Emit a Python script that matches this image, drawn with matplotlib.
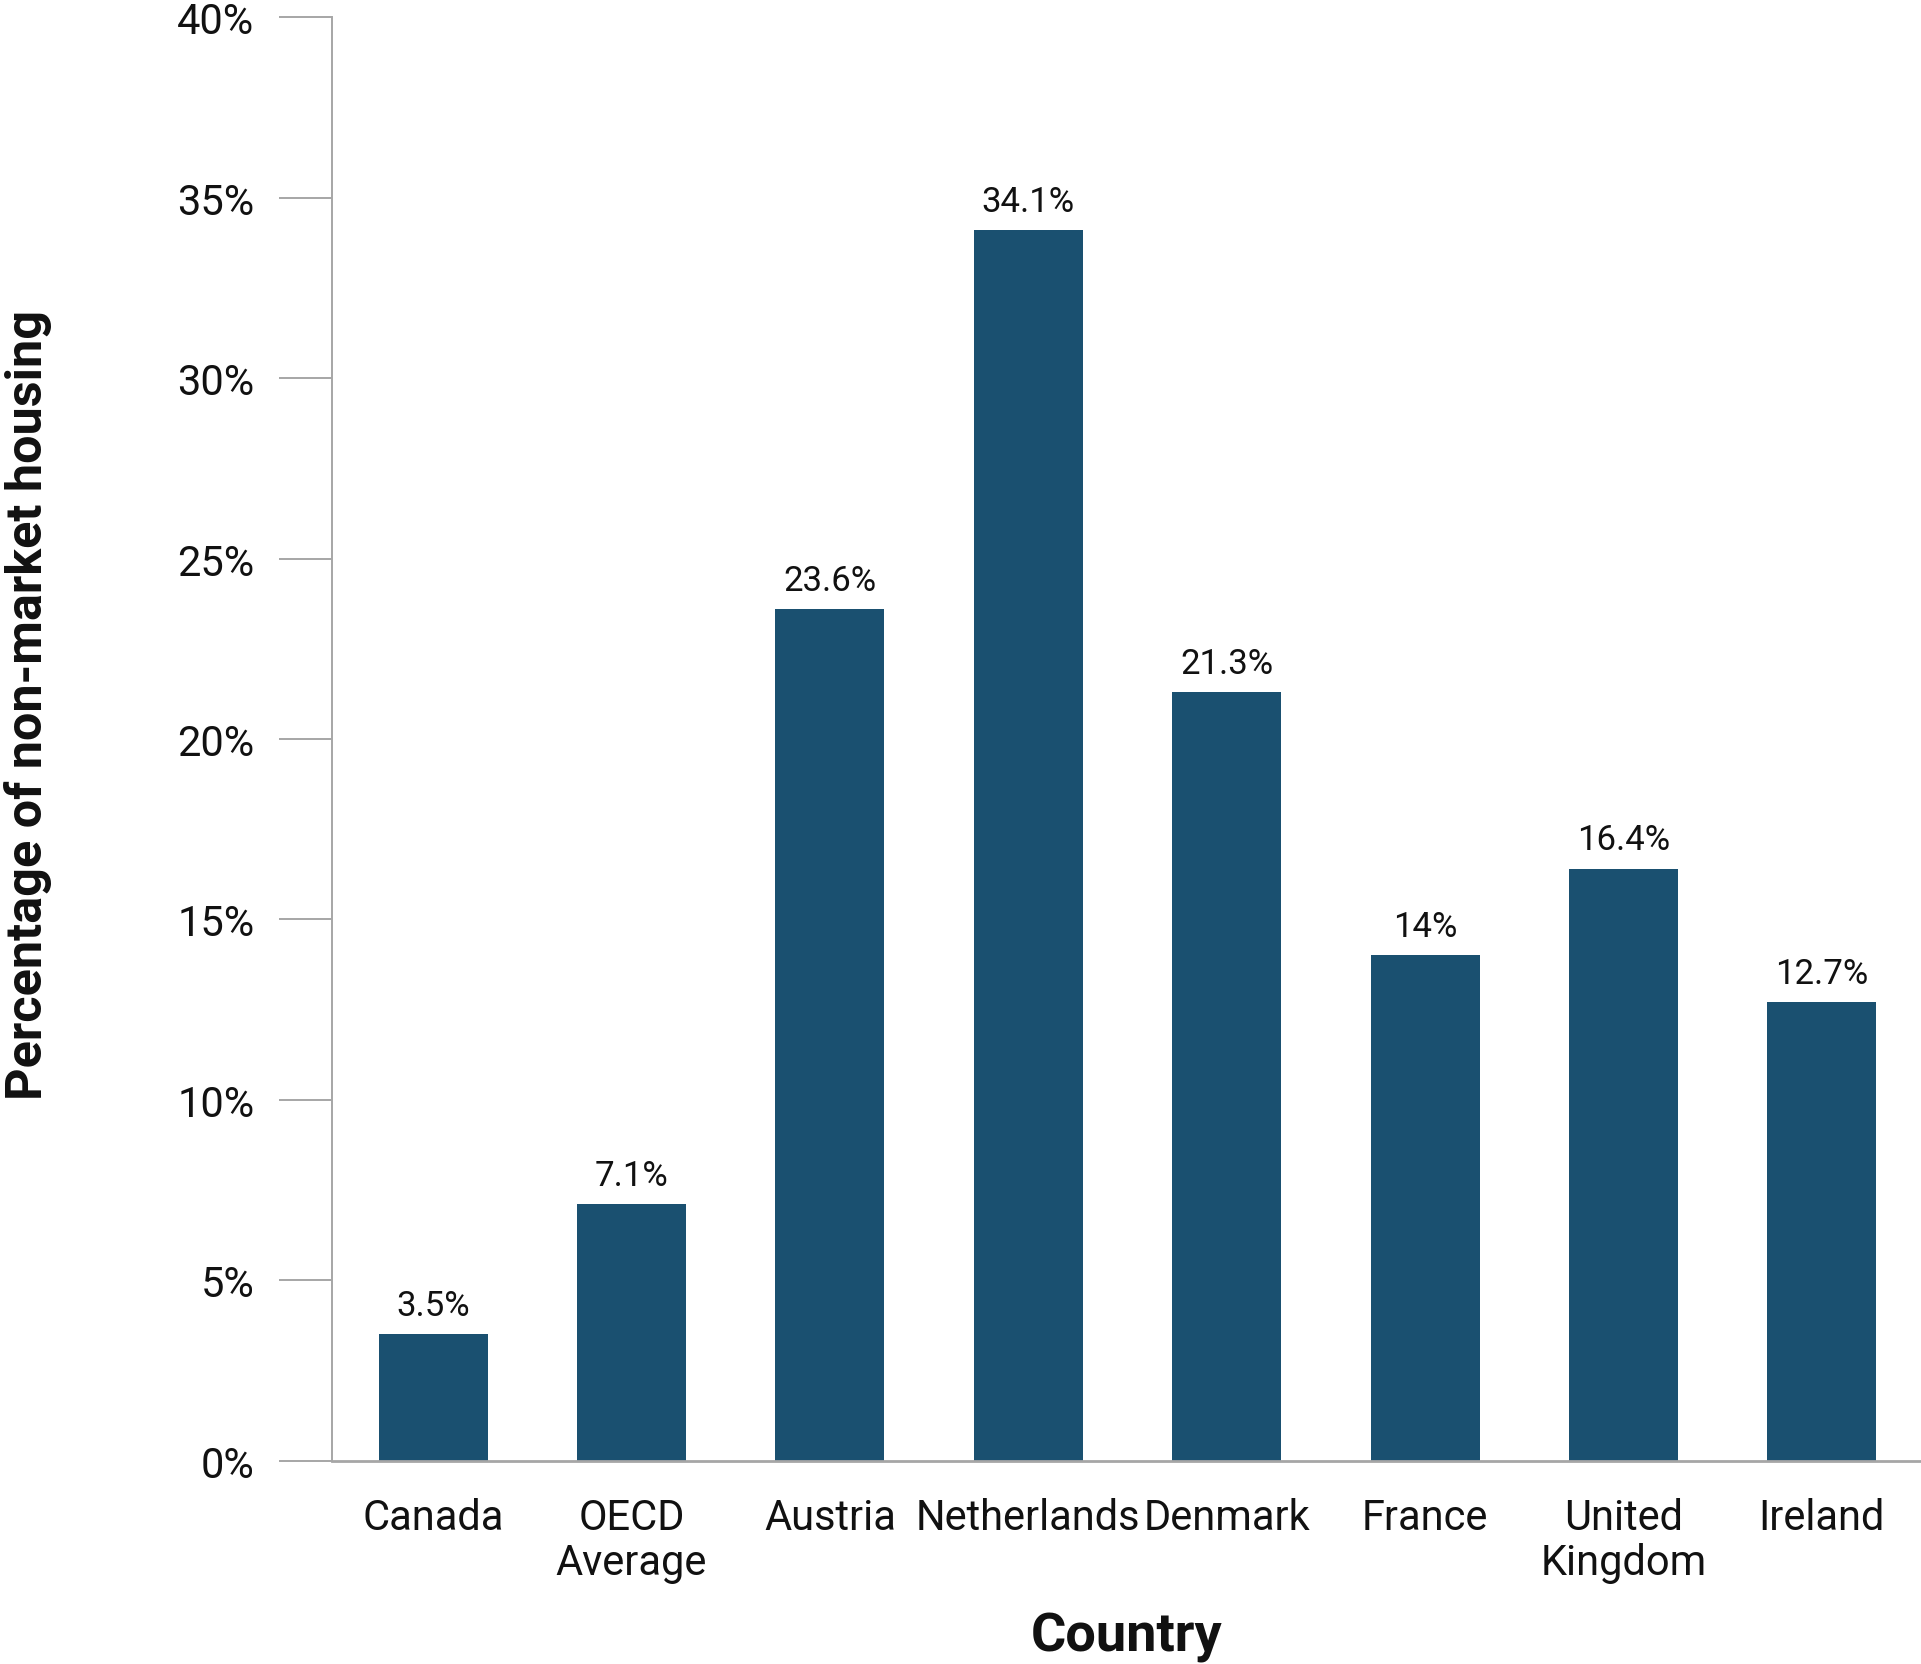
import matplotlib
matplotlib.use("Agg")
import matplotlib.pyplot as plt

countries = ["Canada", "OECD\nAverage", "Austria", "Netherlands", "Denmark",
             "France", "United\nKingdom", "Ireland"]
values = [3.5, 7.1, 23.6, 34.1, 21.3, 14.0, 16.4, 12.7]
value_labels = ["3.5%", "7.1%", "23.6%", "34.1%", "21.3%", "14%", "16.4%", "12.7%"]
yticks = [0, 5, 10, 15, 20, 25, 30, 35, 40]
ytick_labels = ["0%", "5%", "10%", "15%", "20%", "25%", "30%", "35%", "40%"]

plt.rcParams['font.family'] = ['Roboto', 'DejaVu Sans']

W, H = 1921, 1665
fig = plt.figure(figsize=(W / 100, H / 100), dpi=100)
ax = fig.add_axes([332 / W, 1 - 1461.6 / H, 1 - 332 / W, (1461.6 - 18.4) / H])

bar_color = "#1a5070"
x = list(range(len(countries)))
ax.bar(x, values, width=0.55, color=bar_color, zorder=2)

for xi, v, lab in zip(x, values, value_labels):
    ax.annotate(lab, (xi, v), xytext=(0, 9), textcoords="offset points",
                ha="center", va="bottom", fontsize=25, color="#111111")

ax.set_xlim(-0.51, 7.5)
ax.set_ylim(0, 40)
ax.set_yticks(yticks)
ax.set_yticklabels(ytick_labels)
ax.set_xticks(x)
ax.set_xticklabels(countries, linespacing=1.12)

gray = "#a6a6a6"
for s in ["top", "right"]:
    ax.spines[s].set_visible(False)
ax.spines["left"].set_color(gray)
ax.spines["left"].set_linewidth(1.4)
ax.spines["bottom"].set_color(gray)
ax.spines["bottom"].set_linewidth(2.0)

ax.tick_params(axis="y", length=38, width=1.4, color=gray, pad=18,
               labelsize=30, labelcolor="#111111")
ax.tick_params(axis="x", length=0, pad=26, labelsize=30, labelcolor="#111111")

fig.text(28 / W, 1 - 705 / H, "Percentage of non-market housing", rotation=90,
         ha="center", va="center", fontsize=36.3, fontweight="bold", color="#111111")
fig.text(1127 / W, 1 - 1638 / H, "Country", ha="center", va="center",
         fontsize=39, fontweight="bold", color="#111111")

fig.savefig("out.png", dpi=100)
